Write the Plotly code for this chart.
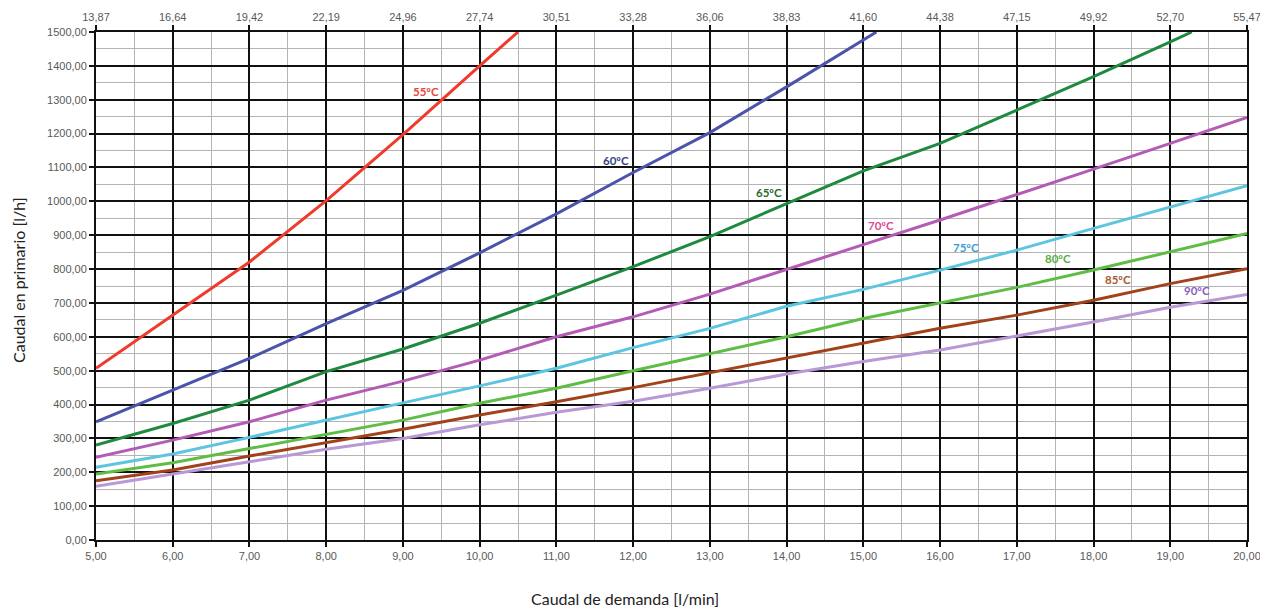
import plotly.graph_objects as go

# Data
x_demand = [5, 6, 7, 8, 9, 10, 11, 12, 13, 14, 15, 16, 17, 18, 19, 20]

x_55 = [5, 6, 7, 8, 9, 10, 10.5]
y_55 = [507, 664, 821, 1002, 1197, 1400, 1500]

x_60 = [5, 6, 7, 8, 9, 10, 11, 12, 13, 14, 15, 15.17]
y_60 = [349, 443, 536, 639, 737, 848, 963, 1085, 1203, 1338, 1475, 1500]

x_65 = [5, 6, 7, 8, 9, 10, 11, 12, 13, 14, 15, 16, 17, 18, 19, 19.28]
y_65 = [280, 344, 413, 497, 564, 640, 723, 807, 896, 993, 1090, 1171, 1270, 1368, 1471, 1500]

y_70 = [244, 295, 349, 413, 469, 531, 600, 659, 726, 800, 872, 945, 1019, 1095, 1171, 1248]
y_75 = [215, 254, 303, 355, 405, 455, 507, 568, 625, 690, 740, 797, 856, 920, 982, 1046]
y_80 = [195, 228, 270, 313, 354, 404, 448, 500, 549, 600, 654, 699, 746, 797, 851, 905]
y_85 = [175, 207, 248, 287, 327, 369, 408, 450, 494, 538, 580, 625, 664, 708, 757, 801]
y_90 = [159, 194, 231, 268, 300, 340, 377, 410, 448, 490, 527, 561, 602, 644, 687, 725]

top_tick_labels = ["13,87", "16,64", "19,42", "22,19", "24,96", "27,74", "30,51", "33,28",
                   "36,06", "38,83", "41,60", "44,38", "47,15", "49,92", "52,70", "55,47"]

series = [
    ("55ºC", x_55, y_55, "#ef3b2c"),
    ("60ºC", x_60, y_60, "#4b53aa"),
    ("65ºC", x_65, y_65, "#1f8a3f"),
    ("70ºC", x_demand, y_70, "#b45bb6"),
    ("75ºC", x_demand, y_75, "#5cc5df"),
    ("80ºC", x_demand, y_80, "#5fbd46"),
    ("85ºC", x_demand, y_85, "#a2421b"),
    ("90ºC", x_demand, y_90, "#b998d6"),
]

# label placement (data coords) and colours
label_x = [9.30, 11.78, 13.77, 15.23, 16.34, 17.54, 18.32, 19.35]
label_y = [1323, 1122, 1027, 930, 865, 830, 768, 738]
label_colors = ["#e8463a", "#35427f", "#2a6a2e", "#e04a96", "#3d9bd3", "#57b042", "#a85a2b", "#8b5dc0"]

fig = go.Figure()
for name, xs, ys, col in series:
    fig.add_trace(go.Scatter(x=xs, y=ys, mode="lines", name=name,
                             line=dict(color=col, width=3), showlegend=False))

# invisible trace on the top axis
fig.add_trace(go.Scatter(x=[5, 20], y=[0, 0], xaxis="x2", mode="lines",
                         line=dict(width=0), hoverinfo="skip", showlegend=False))

for txt, lx, ly, lc in zip([s[0] for s in series], label_x, label_y, label_colors):
    fig.add_annotation(x=lx, y=ly, text="<b>" + txt + "</b>", showarrow=False,
                       font=dict(family="Lato, sans-serif", size=11.5, color=lc))

tickfont = dict(family="Liberation Sans, Arial, sans-serif", size=11, color="#595959")

# page body has an 8px default margin, so the figure is shifted by 8px
fig.update_layout(
    width=1258, height=600,
    margin=dict(l=88, r=19, t=24, b=68),
    paper_bgcolor="white", plot_bgcolor="white",
    separators=",.",
    xaxis=dict(range=[5, 20], dtick=1, tick0=5, tickformat=".2f", automargin=False,
               showgrid=True, gridcolor="#111111", gridwidth=2,
               minor=dict(dtick=0.5, showgrid=True, gridcolor="#b4b4b4", gridwidth=1),
               zeroline=False, showline=True, linecolor="#111111", linewidth=2,
               ticks="outside", ticklen=5, tickcolor="#111111", tickwidth=2,
               tickfont=tickfont, mirror=False),
    xaxis2=dict(range=[5, 20], overlaying="x", side="top", automargin=False,
                tickmode="array", tickvals=x_demand, ticktext=top_tick_labels,
                showgrid=False, zeroline=False, showline=True, linecolor="#111111", linewidth=2,
                ticks="outside", ticklen=5, tickcolor="#111111", tickwidth=2,
                tickfont=tickfont),
    yaxis=dict(range=[0, 1500], dtick=100, tick0=0, tickformat=".2f", automargin=False,
               showgrid=True, gridcolor="#111111", gridwidth=2,
               minor=dict(dtick=50, showgrid=True, gridcolor="#b4b4b4", gridwidth=1),
               zeroline=False, showline=True, linecolor="#111111", linewidth=2,
               mirror=True,
               ticks="outside", ticklen=5, tickcolor="#111111", tickwidth=2,
               tickfont=tickfont),
)

fig.add_annotation(xref="paper", yref="paper", x=(625 - 96) / (1247 - 96), y=-(598 - 540) / (540 - 32),
                   xanchor="center", yanchor="middle",
                   text="Caudal de demanda [l/min]", showarrow=False,
                   font=dict(family="Lato, sans-serif", size=16, color="#222222"))
fig.add_annotation(xref="paper", yref="paper", x=-(96 - 18) / (1247 - 96), y=(540 - 280) / (540 - 32),
                   xanchor="center", yanchor="middle",
                   text="Caudal en primario [l/h]", showarrow=False, textangle=-90,
                   font=dict(family="Lato, sans-serif", size=16, color="#222222"))

fig.write_html("out.html")
